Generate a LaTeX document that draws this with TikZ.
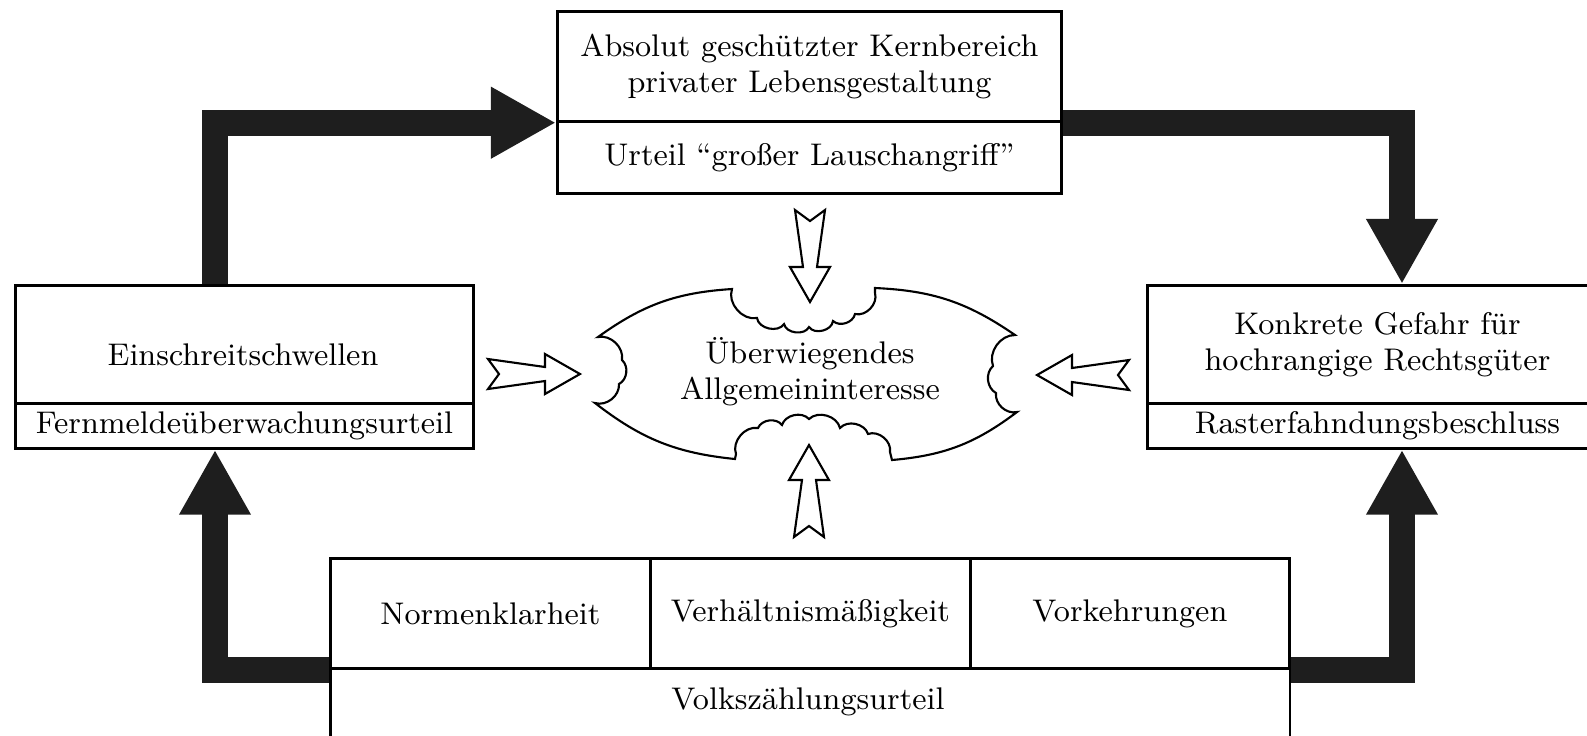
\documentclass[tikz,border=0pt]{standalone}
\usepackage{fontspec}
\usetikzlibrary{arrows.meta,calc}

\definecolor{inkfill}{HTML}{1E1E1E}

\tikzset{
  box/.style={draw, line width=0.75pt, inner sep=0pt, align=center,
    font=\fontsize{8.9}{10.2}\selectfont},
  txt/.style={inner sep=0pt, align=center, font=\fontsize{8.9}{10.2}\selectfont},
  bigarrow/.style={draw=inkfill, line width=0.26cm, line join=miter, line cap=butt,
    -{Triangle[width=0.67cm, length=0.65cm, fill=inkfill]}},
  cloudline/.style={draw, line width=0.6pt, fill=white},
  pics/hollowarrow/.style={code={
    \draw[line width=0.6pt, line join=miter, fill=white]
      (0,-15) -- (11,0) -- (0,15) -- (57,7) -- (57,20) -- (92,0)
      -- (57,-20) -- (57,-7) -- cycle;
  }}
}

\begin{document}
\begin{tikzpicture}[x=0.01cm, y=-0.01cm]
\clip[use as bounding box] (0,0) rectangle (1587,735);

% top box
\node[box, minimum width=5.04cm, minimum height=1.10cm, anchor=north west]
  (kern) at (556,10) {Absolut geschützter Kernbereich\\privater Lebensgestaltung};
\node[box, minimum width=5.04cm, minimum height=0.72cm, anchor=north west]
  (lausch) at (556,120) {Urteil “großer Lauschangriff”};

% left box
\node[box, minimum width=4.58cm, minimum height=1.18cm, anchor=north west]
  (schwelle) at (14,284) {};
\node[txt] (schwelletxt) at (243,355) {Einschreitschwellen};
\node[box, minimum width=4.58cm, minimum height=0.45cm, anchor=north west]
  (fernmeld) at (14,402) {Fernmeldeüberwachungsurteil};

% right box
\node[box, minimum width=4.60cm, minimum height=1.18cm, anchor=north west]
  (gefahr) at (1146,284) {Konkrete Gefahr für\\hochrangige Rechtsgüter};
\node[box, minimum width=4.60cm, minimum height=0.45cm, anchor=north west]
  (raster) at (1146,402) {Rasterfahndungsbeschluss};

% bottom box
\node[box, minimum width=3.20cm, minimum height=1.10cm, anchor=north west]
  (normen) at (329,557) {Normenklarheit};
\node[box, minimum width=3.20cm, minimum height=1.10cm, anchor=north west]
  (verh) at (649,557) {Verhältnismäßigkeit};
\node[box, minimum width=3.19cm, minimum height=1.10cm, anchor=north west]
  (vork) at (969,557) {Vorkehrungen};
\node[box, minimum width=9.59cm, minimum height=0.80cm, anchor=north west]
  (volk) at (329,667) {};
\node[txt] (volktxt) at (808,702) {Volkszählungsurteil};

% cloud
\path[cloudline] (598,337)
  to[bend left=16] (732,289)
  to[bend right=60] (757,318)
  to[bend right=70] (784,324)
  to[bend right=70] (809,327)
  to[bend right=70] (833,321)
  to[bend right=60] (855,314)
  to[bend right=60] (875,293)
  -- (875,288)
  to[bend left=16] (1015,335)
  to[bend right=55] (993,366)
  to[bend right=55] (996,393)
  to[bend right=55] (1017,412)
  to[bend left=16] (892,460)
  -- (890,452)
  to[bend right=60] (868,434)
  to[bend right=60] (840,428)
  to[bend right=60] (809,419)
  to[bend right=60] (782,425)
  to[bend right=60] (758,428)
  to[bend right=60] (736,454)
  -- (735,459)
  to[bend left=16] (595,403)
  to[bend right=55] (619,384)
  to[bend right=55] (622,360)
  to[bend right=55] (598,337)
  -- cycle;
\node[txt] (interesse) at (810,372) {Überwiegendes\\Allgemeininteresse};

% hollow arrows pointing into the cloud
\pic at (488,374) {hollowarrow};
\pic[rotate=180] at (1129,375) {hollowarrow};
\pic[rotate=-90] at (810,210) {hollowarrow};
\pic[rotate=90] at (809,537) {hollowarrow};

% thick black arrows around the cycle
\coordinate (lx) at (215,0);
\coordinate (rx) at (1402,0);
\draw[bigarrow] (lx |- schwelle.north) |- (kern.south west);
\draw[bigarrow] (kern.south east) -| (rx |- gefahr.north);
\draw[bigarrow] (normen.south west) -| (lx |- fernmeld.south);
\draw[bigarrow] (vork.south east) -| (rx |- raster.south);
\end{tikzpicture}
\end{document}
